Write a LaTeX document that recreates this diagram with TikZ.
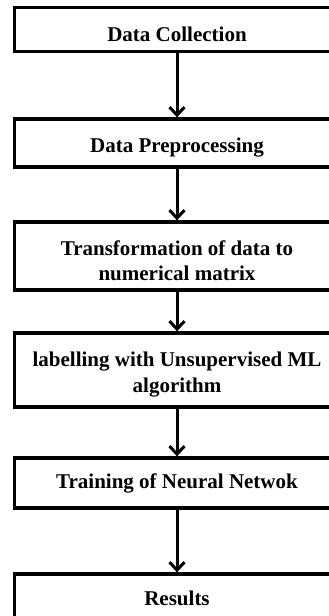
\documentclass[tikz,border=0pt]{standalone}
\usepackage{fontspec}
\setmainfont{Liberation Serif}
\usetikzlibrary{arrows.meta}
\tikzset{
  stagebox/.style={draw=black, line width=3.4pt, rectangle, minimum width=325pt, inner sep=0pt},
  stagetext/.style={font=\fontsize{21}{25.5}\selectfont\bfseries, align=center, inner sep=0pt, anchor=base},
  flow/.style={draw=black, line width=3pt, -{Straight Barb[length=8pt,width=15pt]}}
}
\begin{document}
\begin{tikzpicture}[x=1pt, y=-1pt]
  \useasboundingbox (0,0) rectangle (329,616);
  \clip (0,0) rectangle (329,616);
  \fill[white] (0,0) rectangle (329,616);

  % stage boxes (they run past the right and bottom edges)
  \node[stagebox, minimum height=44pt] (b1) at (177,29.5) {};
  \node[stagebox, minimum height=48pt] (b2) at (177,143) {};
  \node[stagebox, minimum height=68pt] (b3) at (177,256) {};
  \node[stagebox, minimum height=74pt] (b4) at (177,370) {};
  \node[stagebox, minimum height=50pt] (b5) at (177,483) {};
  \node[stagebox, minimum height=76pt] (b6) at (177,612) {};

  % stage labels (base anchor sits on the last line)
  \node[stagetext] (t1) at (177,41.7) {Data Collection};
  \node[stagetext] (t2) at (177,152) {Data Preprocessing};
  \node[stagetext] (t3) at (177,280.5) {Transformation of data to\\numerical matrix};
  \node[stagetext] (t4) at (177,392) {labelling with Unsupervised ML\\algorithm};
  \node[stagetext] (t5) at (177,488) {Training of Neural Netwok};
  \node[stagetext] (t6) at (177,605) {Results};

  % connectors
  \draw[flow] (b1.south) -- (b2.north);
  \draw[flow] (b2.south) -- (b3.north);
  \draw[flow] (b3.south) -- (b4.north);
  \draw[flow] (b4.south) -- (b5.north);
  \draw[flow] (b5.south) -- (b6.north);
\end{tikzpicture}
\end{document}
